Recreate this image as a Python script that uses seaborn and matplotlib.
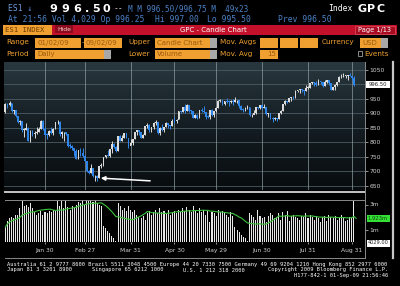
import numpy as np
import pandas as pd
import matplotlib
matplotlib.use("Agg")
import matplotlib.pyplot as plt
import seaborn as sns
from matplotlib.lines import Line2D
from matplotlib.patches import Rectangle
from matplotlib.colors import LinearSegmentedColormap

plt.rcParams['font.family'] = ['DejaVu Sans', 'DejaVu Sans Mono']

# ---------------- data ----------------
holidays = ['2009-01-19', '2009-02-16', '2009-04-10', '2009-05-25', '2009-07-03']
tick_dates = ['2009-01-30', '2009-02-27', '2009-03-31', '2009-04-30',
              '2009-05-29', '2009-06-30', '2009-07-31', '2009-08-31']
tick_labels = ['Jan 30', 'Feb 27', 'Mar 31', 'Apr 30', 'May 29', 'Jun 30', 'Jul 31', 'Aug 31']
price_ticks = [650, 700, 750, 800, 850, 900, 950, 1000, 1050]
price_tick_labels = ['650', '700', '750', '800', '850', '900', '950', '', '1050']

opens = [903, 932, 927, 935, 907, 910, 890, 870, 872, 843, 844, 850, 805, 840, 828, 832, 837, 846, 874, 845,
         826, 825, 839, 832, 846, 869, 870, 827, 834, 835, 827, 789, 788, 779, 770, 743, 773, 765, 753,
         735, 701, 696, 713, 683, 683, 677, 720, 721, 751, 757, 754, 778, 794, 784, 769, 823, 806, 814, 833, 816, 788,
         798, 811, 834, 843, 835, 816, 825, 857, 859, 842, 852, 865, 870, 832, 850, 844, 852, 866, 858, 855, 874,
         873, 878, 907, 904, 920, 907, 929, 909, 908, 884, 893, 883, 910, 908, 903, 888, 887, 910, 893, 907,
         919, 943, 945, 932, 942, 940, 939, 942, 939, 945, 946, 924, 912, 911, 918, 921, 893, 895, 901, 920, 919, 927,
         919, 923, 896, 899, 881, 880, 883, 879, 901, 906, 933, 941, 940, 951, 955, 954, 976, 979, 982, 980, 975, 987,
         987, 1003, 1006, 1003, 997, 1010, 1007, 994, 1006, 1013, 1004, 980, 990, 996, 1007, 1026, 1026, 1028, 1028, 1031, 1029,
         1021, 996.25]
highs = [935, 936, 943, 936, 911, 911, 891, 878, 873, 849, 868, 852, 841, 841, 838, 852, 852, 877, 875, 851,
         832, 843, 851, 850, 870, 876, 872, 838, 836, 836, 828, 796, 792, 779, 777, 775, 780, 779, 755,
         736, 705, 725, 713, 688, 689, 720, 730, 751, 758, 774, 778, 803, 797, 788, 823, 824, 826, 833, 833, 816, 810,
         812, 835, 843, 843, 835, 828, 857, 865, 862, 853, 870, 875, 869, 852, 862, 853, 871, 868, 859, 881, 888,
         880, 908, 908, 921, 930, 931, 929, 911, 908, 898, 897, 910, 917, 924, 903, 893, 911, 913, 909, 920,
         944, 949, 945, 943, 951, 946, 947, 950, 956, 946, 942, 928, 918, 921, 927, 922, 897, 911, 921, 922, 928, 931,
         932, 922, 900, 899, 887, 888, 885, 902, 910, 933, 944, 942, 952, 955, 958, 979, 980, 983, 982, 978, 996, 994,
         1004, 1006, 1006, 1009, 1018, 1011, 1006, 1013, 1013, 1013, 999, 991, 999, 1008, 1027, 1035, 1037, 1032, 1032, 1039, 1025,
         1028, 997]
lows = [899, 919, 925, 905, 896, 887, 865, 858, 836, 817, 842, 804, 800, 820, 815, 828, 836, 845, 844, 823,
        813, 821, 830, 824, 845, 864, 823, 814, 805, 825, 783, 780, 775, 754, 742, 743, 752, 751, 734,
        699, 692, 696, 682, 667, 667, 677, 713, 718, 745, 753, 749, 765, 780, 767, 769, 805, 805, 814, 814, 780, 790,
        790, 812, 826, 825, 814, 814, 825, 849, 837, 836, 847, 858, 830, 826, 840, 836, 852, 850, 846, 856, 866,
        866, 879, 899, 904, 899, 907, 903, 896, 882, 882, 879, 883, 905, 899, 880, 882, 881, 892, 888, 903,
        919, 938, 929, 927, 934, 926, 936, 929, 938, 935, 919, 910, 904, 907, 915, 889, 888, 898, 896, 914, 916, 914,
        918, 895, 886, 880, 869, 877, 873, 879, 898, 906, 928, 935, 940, 943, 948, 953, 972, 969, 972, 964, 976, 984,
        988, 999, 994, 993, 998, 999, 991, 993, 1002, 998, 979, 980, 978, 992, 1008, 1022, 1026, 1022, 1014, 1029, 1015,
        994, 995.5]
closes = [932, 927, 935, 907, 910, 890, 870, 872, 843, 844, 850, 805, 840, 828, 832, 837, 846, 874, 845, 826,
          825, 839, 832, 846, 869, 870, 827, 834, 835, 827, 789, 788, 779, 770, 743, 773, 765, 753, 735,
          701, 696, 713, 683, 683, 677, 720, 721, 751, 757, 754, 778, 794, 784, 769, 823, 806, 814, 833, 816, 788, 798,
          811, 834, 843, 835, 816, 825, 857, 859, 842, 852, 865, 870, 832, 850, 844, 852, 866, 858, 855, 874, 873,
          878, 907, 904, 920, 907, 929, 909, 908, 884, 893, 883, 910, 908, 903, 888, 887, 910, 893, 907, 919,
          943, 945, 932, 942, 940, 939, 942, 939, 945, 946, 924, 912, 911, 918, 921, 893, 895, 901, 920, 919, 927, 919,
          923, 896, 899, 881, 880, 883, 879, 901, 906, 933, 941, 940, 951, 955, 954, 976, 979, 982, 980, 975, 987, 987,
          1003, 1006, 1003, 997, 1010, 1007, 994, 1006, 1013, 1004, 980, 990, 996, 1007, 1026, 1026, 1028, 1028, 1031, 1029, 1021,
          996, 996.5]
volume_m = [1.2, 1.7, 1.9, 2.0, 1.9, 2.2, 2.2, 2.7, 3.4, 2.9, 3.0, 2.8, 3.1, 2.7, 2.4, 2.2, 2.3, 2.5, 2.2, 2.4,
            2.3, 2.5, 2.4, 2.6, 2.5, 3.3, 2.9, 3.3, 2.7, 3.3, 2.8, 2.6, 2.9, 2.8, 3.0, 3.2, 3.1, 3.4, 3.0,
            3.4, 3.3, 3.4, 3.2, 3.3, 3.1, 3.0, 2.9, 1.3, 1.1, 0.9, 0.7, 0.5, 0.35, 0.05, 3.1, 2.9, 2.6, 2.7, 2.5, 2.9, 2.6,
            2.4, 2.6, 2.2, 2.0, 1.9, 2.1, 1.8, 2.3, 2.5, 2.2, 2.4, 2.6, 2.3, 2.7, 2.4, 2.5, 2.3, 2.6, 2.2, 2.4, 2.5,
            2.3, 2.6, 2.4, 2.7, 2.5, 2.8, 2.6, 2.4, 2.9, 2.5, 2.3, 2.7, 2.4, 2.6, 2.2, 2.5, 1.6, 2.4, 2.3, 2.1,
            2.6, 2.4, 2.5, 2.3, 2.2, 2.0, 2.4, 2.1, 1.2, 1.0, 0.8, 0.6, 0.4, 0.3, 0.05, 2.3, 2.2, 2.0, 1.8, 2.6, 2.1, 1.9,
            2.0, 1.6, 2.1, 2.3, 2.2, 1.9, 2.0, 2.3, 1.8, 2.4, 2.2, 2.5, 1.7, 2.1, 2.2, 2.0, 1.9, 1.8, 2.1, 2.0, 2.3, 1.9,
            2.2, 2.0, 1.8, 2.1, 1.9, 1.6, 2.0, 2.1, 1.7, 2.2, 2.0, 1.9, 2.1, 1.8, 2.0, 2.2, 1.9, 1.7, 1.8, 2.0, 1.9,
            3.3, 0.004029]

dates = pd.bdate_range('2009-01-02', '2009-09-02')
dates = dates[~dates.isin(pd.to_datetime(holidays))]
df = pd.DataFrame({'date': dates, 'open': opens, 'high': highs, 'low': lows,
                   'close': closes, 'volume': np.array(volume_m) * 1e6})
df['i'] = np.arange(len(df))
df['ma'] = df['volume'].rolling(15, min_periods=1).mean()
tick_pos = [int(np.where(df['date'] == pd.Timestamp(d))[0][0]) for d in tick_dates]

# ---------------- figure ----------------
W, H = 400, 286
fig = plt.figure(figsize=(4, 2.86), dpi=100, facecolor='black')


def T(x, y, s, color, size=5.8, ha='left', weight='normal', family='DejaVu Sans Mono'):
    fig.text(x / W, 1 - y / H, s, color=color, fontsize=size, ha=ha, va='center',
             fontweight=weight, family=family)


def B(x0, y0, x1, y1, color, ec='none'):
    fig.add_artist(Rectangle((x0 / W, 1 - y1 / H), (x1 - x0) / W, (y1 - y0) / H,
                             transform=fig.transFigure, facecolor=color, edgecolor=ec, lw=0.5))


def HL(y, x0, x1, color, lw):
    fig.add_artist(Line2D([x0 / W, x1 / W], [1 - y / H, 1 - y / H], transform=fig.transFigure, color=color, lw=lw))


def VL(x, y0, y1, color, lw):
    fig.add_artist(Line2D([x / W, x / W], [1 - y0 / H, 1 - y1 / H], transform=fig.transFigure, color=color, lw=lw))


XL = (-0.5, 172.3)

# price panel
ax = fig.add_axes([4.3 / W, 1 - 190 / H, (365 - 4.3) / W, 128 / H])
ax.set_facecolor('black')
PY = (636.3, 1075.8)
cmap = LinearSegmentedColormap.from_list('bg', ['#080c0f', '#141d22', '#29383f'])
ax.imshow(np.linspace(0, 1, 256).reshape(-1, 1), extent=[XL[0], XL[1], PY[0], PY[1]],
          aspect='auto', cmap=cmap, origin='lower', zorder=0)
for p in price_ticks:
    ax.axhline(p, color='#4c5c62', lw=0.6, zorder=1)
for t in tick_pos:
    ax.axvline(t, color='#8c9ca2', lw=0.5, zorder=1)

up_c, dn_c = '#dcdcdc', '#2f86ea'
cols = np.where(df['close'] >= df['open'], up_c, dn_c)
ax.vlines(df['i'], df['low'], df['high'], colors=cols, lw=0.7, zorder=3)
body = np.maximum((df['close'] - df['open']).abs(), 2.0)
ax.bar(df['i'], body, bottom=np.minimum(df['open'], df['close']), width=0.85, color=cols, lw=0, zorder=4)

ax.annotate('', xy=(44.4, 677.5), xytext=(70.7, 667.2),
            arrowprops=dict(arrowstyle='-|>', color='white', lw=1.1, mutation_scale=6), zorder=6)

ax.set_xlim(*XL)
ax.set_ylim(*PY)
ax.yaxis.tick_right()
ax.set_yticks(price_ticks)
ax.set_yticklabels(price_tick_labels)
ax.tick_params(axis='y', colors='#d0d0d0', labelsize=4.3, length=2, width=0.5, pad=1)
ax.set_xticks([])
for s in ax.spines.values():
    s.set_visible(False)

# volume panel
axv = fig.add_axes([4.3 / W, 1 - 242 / H, (365 - 4.3) / W, 42 / H])
axv.set_facecolor('black')
sns.barplot(x=df['i'], y=df['volume'], native_scale=True, color='#e6e6e6', width=0.5,
            errorbar=None, saturation=1, ax=axv, zorder=3, linewidth=0)
sns.lineplot(x=df['i'], y=df['ma'], ax=axv, color='#3cc43c', lw=0.8, zorder=4)
axv.set_xlim(*XL)
axv.set_ylim(0, 3.36e6)
axv.yaxis.tick_right()
axv.set_yticks([1e6, 3e6])
axv.set_yticklabels(['1m', '3m'])
axv.tick_params(axis='y', colors='#d0d0d0', labelsize=4.3, length=2, width=0.5, pad=1)
axv.set_xticks(tick_pos)
axv.set_xticklabels(tick_labels)
axv.tick_params(axis='x', colors='#d0d0d0', labelsize=4.3, length=1.5, width=0.5, pad=2.5)
axv.set_xlabel('')
axv.set_ylabel('')
for s in axv.spines.values():
    s.set_visible(False)

# value labels on right axis
B(366, 81, 390, 88.5, 'white')
T(378, 84.8, '996.50', '#202020', size=3.8, ha='center', family='DejaVu Sans')
B(366.5, 214.5, 390, 222, '#33e033')
T(378, 218.3, '1.923m', '#104010', size=3.8, ha='center', family='DejaVu Sans')
B(366.5, 239.5, 390, 246.5, 'white')
T(378, 243, '4029.00', '#202020', size=3.6, ha='center', family='DejaVu Sans')

# frame lines
HL(191.5, 5, 365, '#c4c4c4', 1.4)
HL(199.5, 5, 365, '#8a8a8a', 0.7)
HL(257.5, 5, 365, '#8a8a8a', 0.7)
VL(365.3, 62, 258, '#8a8a8a', 0.7)
VL(392.5, 62, 258, '#c8c8c8', 1.6)

# ---------------- header ----------------
blue = '#4a82c8'
T(8, 8.5, 'ES1 \u2193', '#6a9ad8')
for ch, cx in zip('996.50', [53, 65, 77, 86.5, 96, 106]):
    T(cx, 8.5, ch, 'white', size=8, ha='center', weight='bold', family='DejaVu Sans')
T(114, 8.5, '--', '#d0d0d0')
T(128, 8.5, 'M M 996.50/996.75 M  49x23', blue, size=5.5)
T(328, 8.5, 'Index', 'white', size=5.8)
for ch, cx in zip('GPC', [362, 371.5, 381]):
    T(cx, 8.5, ch, 'white', size=8, ha='center', weight='bold', family='DejaVu Sans')

T(8, 19, 'At 21:56 Vol 4,029 Op 996.25', blue)
T(155, 19, 'Hi 997.00', blue)
T(207, 19, 'Lo 995.50', blue)
T(278, 19, 'Prev 996.50', blue)

# red bar
B(52, 25, 397, 34.5, '#c3112b')
B(3, 25, 52, 34.5, '#f0a030')
T(5, 29.8, 'ES1 INDEX', '#6a3a00', size=5.2)
B(55, 25.5, 73, 33.5, '#8c0c1e')
T(64, 29.5, 'Hide', '#f4d0d0', size=4.3, ha='center', family='DejaVu Sans')
T(180, 29.8, 'GPC - Candle Chart', 'white', size=5.0, family='DejaVu Sans')
B(355, 25.8, 395, 33.8, '#a80c22', ec='#e05060')
T(375, 29.8, 'Page 1/13', 'white', size=4.8, ha='center', family='DejaVu Sans')

orange = '#f0a030'
boxtxt = '#9a5a10'
# row 4
T(6, 42.5, 'Range', orange, size=5.2, family='DejaVu Sans')
B(35, 38, 81, 47.5, orange)
T(38, 42.8, '01/02/09', boxtxt, size=5.0, family='DejaVu Sans')
T(81.5, 42.5, '-', orange, size=5.0, family='DejaVu Sans')
B(84, 38, 122, 47.5, orange)
T(86, 42.8, '09/02/09', boxtxt, size=5.0, family='DejaVu Sans')
T(128, 42.5, 'Upper', orange, size=5.2, family='DejaVu Sans')
B(155, 38, 210, 47.5, orange)
B(210, 38, 217, 47.5, '#a8a8a8')
T(157, 42.8, 'Candle Chart', boxtxt, size=5.0, family='DejaVu Sans')
T(220, 42.5, 'Mov. Avgs', orange, size=5.2, family='DejaVu Sans')
for x0 in (260, 280, 300):
    B(x0, 38, x0 + 18, 47.5, orange)
T(322, 42.5, 'Currency', orange, size=5.2, family='DejaVu Sans')
B(360, 38, 381, 47.5, orange)
B(381, 38, 388, 47.5, '#a8a8a8')
T(362, 42.8, 'USD', boxtxt, size=5.0, family='DejaVu Sans')
# row 5
T(6, 54, 'Period', orange, size=5.2, family='DejaVu Sans')
B(35, 49.5, 104, 59, orange)
B(104, 49.5, 111, 59, '#a8a8a8')
T(37, 54.3, 'Daily', boxtxt, size=5.0, family='DejaVu Sans')
T(128, 54, 'Lower', orange, size=5.2, family='DejaVu Sans')
B(155, 49.5, 210, 59, orange)
B(210, 49.5, 217, 59, '#a8a8a8')
T(157, 54.3, 'Volume', boxtxt, size=5.0, family='DejaVu Sans')
T(220, 54, 'Mov. Avg', orange, size=5.2, family='DejaVu Sans')
B(260, 49.5, 278, 59, orange)
T(276, 54.3, '15', boxtxt, size=5.0, ha='right', family='DejaVu Sans')
B(357.5, 51.5, 362, 56.5, 'none', ec='#c0c0c0')
T(364, 54, 'Events', orange, size=5.2, family='DejaVu Sans')

# ---------------- footer ----------------
fs = 3.86
T(7, 264.5, 'Australia 61 2 9777 8600 Brazil 5511 3048 4500 Europe 44 20 7330 7500 '
            'Germany 49 69 9204 1210 Hong Kong 852 2977 6000', 'white', size=fs)
T(7, 270, 'Japan 81 3 3201 8900', 'white', size=fs)
T(92, 270, 'Singapore 65 6212 1000', 'white', size=fs)
T(183, 270, 'U.S. 1 212 318 2000', 'white', size=fs)
T(268, 270, 'Copyright 2009 Bloomberg Finance L.P.', 'white', size=fs)
T(388, 275.2, 'H177-842-1 01-Sep-09 21:56:46', 'white', size=fs, ha='right')

fig.savefig('out.png', dpi=100, facecolor='black')
